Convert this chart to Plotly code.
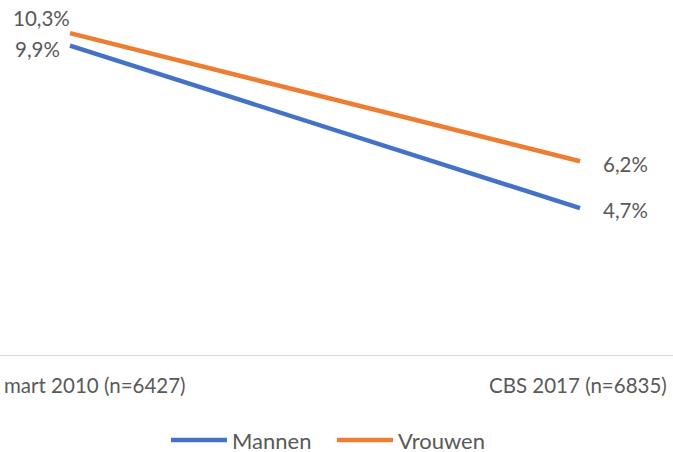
import plotly.graph_objects as go

categories = ["mart 2010 (n=6427)", "CBS 2017 (n=6835)"]
mannen = [9.9, 4.7]
vrouwen = [10.3, 6.2]
series_names = ["Mannen", "Vrouwen"]
colors = ["#4472C4", "#ED7D31"]

FONT = "Lato"
FS = 20.5
TXT = "#595959"

def fmt(v):
    return f"{v:.1f}".replace(".", ",") + "%"

xs = [0, 1]
fig = go.Figure()
for name, vals, col in zip(series_names, [mannen, vrouwen], colors):
    fig.add_trace(go.Scatter(x=xs, y=vals, mode="lines", name=name,
                             line=dict(color=col, width=4.5)))

ann = []
label_specs = {
    "Mannen": [dict(xanchor="right", yanchor="middle", xshift=-8, yshift=-3),
               dict(xanchor="left", yanchor="middle", xshift=21, yshift=-2)],
    "Vrouwen": [dict(xanchor="right", yanchor="bottom", xshift=2, yshift=1),
                dict(xanchor="left", yanchor="middle", xshift=21, yshift=-3)],
}
for name, vals in zip(series_names, [mannen, vrouwen]):
    for i, v in enumerate(vals):
        ann.append(dict(x=xs[i], y=v, xref="x", yref="y", text=fmt(v), showarrow=False,
                        font=dict(family=FONT, size=FS, color=TXT), **label_specs[name][i]))
ann.append(dict(x=xs[0], y=0, xref="x", yref="y", text=categories[0], showarrow=False,
                xanchor="right", yanchor="middle", xshift=118, yshift=-30,
                font=dict(family=FONT, size=FS, color=TXT)))
ann.append(dict(x=xs[1], y=0, xref="x", yref="y", text=categories[1], showarrow=False,
                xanchor="center", yanchor="middle", xshift=-2, yshift=-30,
                font=dict(family=FONT, size=FS, color=TXT)))

fig.update_layout(
    width=673, height=452,
    margin=dict(l=0, r=0, t=0, b=97, autoexpand=False),
    plot_bgcolor="white", paper_bgcolor="white",
    showlegend=True,
    legend=dict(orientation="h", x=166/673, xanchor="left", y=-0.24, yanchor="middle",
                font=dict(family=FONT, size=22, color=TXT), itemwidth=56,
                entrywidth=95, entrywidthmode="pixels",
                tracegroupgap=0),
    annotations=ann,
    xaxis=dict(range=[-70/510, 1 + 93/510], showgrid=False, zeroline=False,
               showticklabels=False, showline=True, linecolor="#D9D9D9", linewidth=1,
               fixedrange=True),
    yaxis=dict(range=[0, 355/31.25], showgrid=False, zeroline=False, showticklabels=False,
               showline=False, fixedrange=True),
)
fig.write_html("out.html", config={"displayModeBar": False},
               post_script="document.body.style.margin='0';document.body.style.overflow='hidden';")
